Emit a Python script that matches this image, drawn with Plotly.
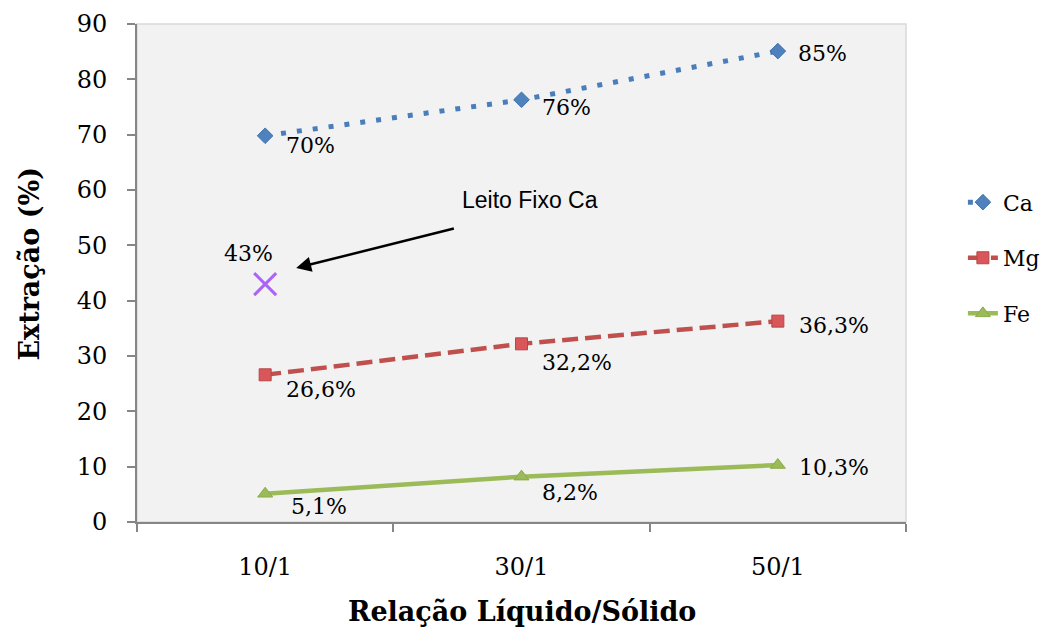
import plotly.graph_objects as go

# dados
categorias = ['10/1', '30/1', '50/1']
ca = [69.8, 76.3, 85.1]
mg = [26.6, 32.2, 36.3]
fe = [5.1, 8.2, 10.3]
ca_txt = ['70%', '76%', '85%']
mg_txt = ['26,6%', '32,2%', '36,3%']
fe_txt = ['5,1%', '8,2%', '10,3%']
leito_x = ['10/1']
leito_y = [43]
leito_txt = ['43%']

serif = 'DejaVu Serif'
fig = go.Figure()

fig.add_trace(go.Scatter(x=categorias, y=ca, name='Ca', mode='lines+markers',
                         line=dict(color='#4a7ebb', width=5, dash='5px,11px'),
                         marker=dict(symbol='diamond', size=12, color='#4f81bd',
                                     line=dict(color='#3f70ad', width=1)),
                         legendgroup='a'))
fig.add_trace(go.Scatter(x=categorias, y=mg, name='Mg', mode='lines+markers',
                         line=dict(color='#c0504d', width=4.5, dash='16px,7px'),
                         marker=dict(symbol='square', size=12, color='#d9575a',
                                     line=dict(color='#b84643', width=1)),
                         legendgroup='b'))
fig.add_trace(go.Scatter(x=categorias, y=fe, name='Fe', mode='lines+markers',
                         line=dict(color='#9bbb59', width=4.5),
                         marker=dict(symbol='triangle-up', size=13, color='#9bbb59',
                                     line=dict(color='#8aab48', width=1)),
                         legendgroup='c'))
fig.add_trace(go.Scatter(x=leito_x, y=leito_y, mode='markers', showlegend=False,
                         marker=dict(symbol='x-thin-open', size=22,
                                     line=dict(color='#7d60a0', width=3))))

# rótulos de dados (deslocamentos em pixels)
desl = {
    'ca': [(19, -10), (18, -8), (18, -2)],
    'mg': [(19, -15), (18, -19), (19, -4)],
    'fe': [(24, -13), (18, -16), (19, -2)],
}
for serie, txts, chave in [(ca, ca_txt, 'ca'), (mg, mg_txt, 'mg'), (fe, fe_txt, 'fe')]:
    for i, (c, v, t) in enumerate(zip(categorias, serie, txts)):
        dx, dy = desl[chave][i]
        fig.add_annotation(x=c, y=v, text=t, showarrow=False, xanchor='left',
                           xshift=dx, yshift=dy, font=dict(family=serif, size=22, color='black'))
fig.add_annotation(x=leito_x[0], y=leito_y[0], text=leito_txt[0], showarrow=False,
                   xanchor='right', xshift=10, yshift=31,
                   font=dict(family=serif, size=22, color='black'))

# seta e texto "Leito Fixo Ca"
fig.add_annotation(x=0.121, y=45.9, ax=0.742, ay=53.1, xref='x', yref='y',
                   axref='x', ayref='y', text='', showarrow=True,
                   arrowhead=2, arrowsize=1.2, arrowwidth=2.5, arrowcolor='black')
fig.add_annotation(x=1.035, y=58.2, text='Leito Fixo Ca', showarrow=False,
                   font=dict(family='Liberation Sans', size=23, color='black'))

# títulos dos eixos
fig.add_annotation(xref='paper', yref='paper', x=0, y=0.5, xshift=-126, yshift=9,
                   text='<b>Extração (%)</b>', textangle=-90, showarrow=False,
                   font=dict(family=serif, size=27, color='black'))
fig.add_annotation(xref='paper', yref='paper', x=0.5, y=0, yshift=-107,
                   text='<b>Relação Líquido/Sólido</b>', showarrow=False,
                   font=dict(family=serif, size=27, color='black'))

# borda da área do gráfico
fig.add_shape(type='rect', xref='paper', yref='paper', x0=0, y0=0, x1=1, y1=1,
              line=dict(color='#d9d9d9', width=1.5), layer='below')

fig.update_layout(
    width=1055, height=631,
    margin=dict(l=129, r=157, t=16, b=117, autoexpand=False),
    paper_bgcolor='white', plot_bgcolor='#f2f2f2',
    font=dict(family=serif, size=22, color='black'),
    showlegend=True,
    legend=dict(x=1.074, y=0.684, xanchor='left', yanchor='top',
                tracegroupgap=24, font=dict(family=serif, size=22),
                bgcolor='rgba(0,0,0,0)'),
    xaxis=dict(type='category', range=[-0.5, 2.5], showgrid=False, automargin=False,
               showline=True, linecolor='#868686', linewidth=2,
               ticks='outside', tickson='boundaries', ticklen=8,
               tickcolor='#868686', tickwidth=2, ticklabelstandoff=22,
               tickfont=dict(family=serif, size=24)),
    yaxis=dict(range=[0, 90], dtick=10, showgrid=False, zeroline=False, automargin=False,
               showline=True, linecolor='#868686', linewidth=2,
               ticks='outside', ticklen=8, tickcolor='#868686', tickwidth=2,
               ticklabelstandoff=15, tickfont=dict(family=serif, size=24)),
)

fig.write_html('out.html')
